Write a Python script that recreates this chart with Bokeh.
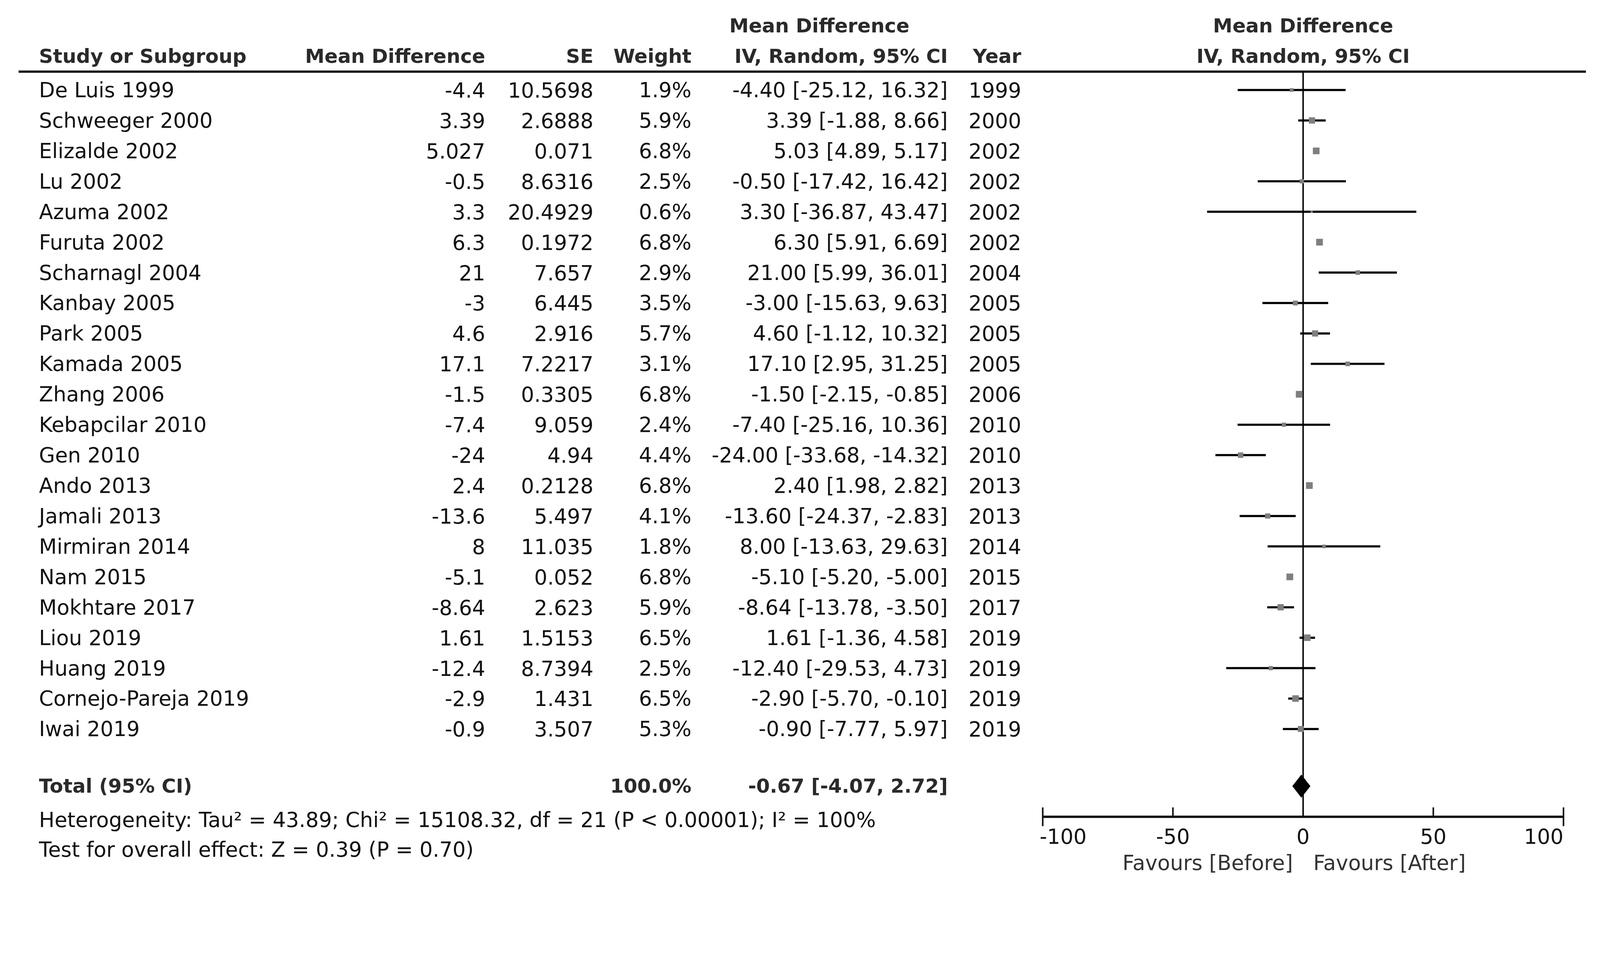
from bokeh.plotting import figure
from bokeh.models import Range1d, ColumnDataSource
from bokeh.core.properties import value
from bokeh.embed import file_html
from bokeh.resources import INLINE

# ---------------- data ----------------
studies = ["De Luis 1999", "Schweeger 2000", "Elizalde 2002", "Lu 2002", "Azuma 2002",
           "Furuta 2002", "Scharnagl 2004", "Kanbay 2005", "Park 2005", "Kamada 2005",
           "Zhang 2006", "Kebapcilar 2010", "Gen 2010", "Ando 2013", "Jamali 2013",
           "Mirmiran 2014", "Nam 2015", "Mokhtare 2017", "Liou 2019", "Huang 2019",
           "Cornejo-Pareja 2019", "Iwai 2019"]
md_text = ["-4.4", "3.39", "5.027", "-0.5", "3.3", "6.3", "21", "-3", "4.6", "17.1", "-1.5",
           "-7.4", "-24", "2.4", "-13.6", "8", "-5.1", "-8.64", "1.61", "-12.4", "-2.9", "-0.9"]
se_text = ["10.5698", "2.6888", "0.071", "8.6316", "20.4929", "0.1972", "7.657", "6.445",
           "2.916", "7.2217", "0.3305", "9.059", "4.94", "0.2128", "5.497", "11.035", "0.052",
           "2.623", "1.5153", "8.7394", "1.431", "3.507"]
weights = [1.9, 5.9, 6.8, 2.5, 0.6, 6.8, 2.9, 3.5, 5.7, 3.1, 6.8, 2.4, 4.4, 6.8, 4.1, 1.8,
           6.8, 5.9, 6.5, 2.5, 6.5, 5.3]
est = [-4.40, 3.39, 5.03, -0.50, 3.30, 6.30, 21.00, -3.00, 4.60, 17.10, -1.50, -7.40,
       -24.00, 2.40, -13.60, 8.00, -5.10, -8.64, 1.61, -12.40, -2.90, -0.90]
ci_lo = [-25.12, -1.88, 4.89, -17.42, -36.87, 5.91, 5.99, -15.63, -1.12, 2.95, -2.15,
         -25.16, -33.68, 1.98, -24.37, -13.63, -5.20, -13.78, -1.36, -29.53, -5.70, -7.77]
ci_hi = [16.32, 8.66, 5.17, 16.42, 43.47, 6.69, 36.01, 9.63, 10.32, 31.25, -0.85, 10.36,
         -14.32, 2.82, -2.83, 29.63, -5.00, -3.50, 4.58, 4.73, -0.10, 5.97]
years = ["1999", "2000", "2002", "2002", "2002", "2002", "2004", "2005", "2005", "2005",
         "2006", "2010", "2010", "2013", "2013", "2014", "2015", "2017", "2019", "2019",
         "2019", "2019"]

total_label = "Total (95% CI)"
total_weight = 100.0
total_est, total_lo, total_hi = -0.67, -4.07, 2.72
heterogeneity = "Heterogeneity: Tau\u00b2 = 43.89; Chi\u00b2 = 15108.32, df = 21 (P < 0.00001); I\u00b2 = 100%"
overall = "Test for overall effect: Z = 0.39 (P = 0.70)"
axis_ticks = [-100, -50, 0, 50, 100]
favours_left = "Favours [Before]"
favours_right = "Favours [After]"

# ---------------- layout (in reference-view units, converted by K) ----------------
K = 2.614
W, H = 4060, 2250
def k(v):
    return v * K

ROW0, ROW_H = k(88), k((714 - 88) / 21.0)
Y_HEAD1, Y_HEAD2, Y_RULE = k(25), k(55), k(70)
Y_TOTAL, Y_HET, Y_TEST = k(770), k(803), k(832)
Y_AXIS, Y_TICKLAB, Y_FAV = k(800), k(819), k(845)
X_STUDY, X_MD, X_SE, X_W, X_CI, X_YEAR = k(38), k(475), k(581), k(677), k(928), k(1000)
X_CIHEAD1 = k(714)
RULE_X0, RULE_X1 = k(18), k(1553)
PX_M100, PX_P100 = k(1021), k(1531)
scale = (PX_P100 - PX_M100) / 200.0
md_start = -100 - PX_M100 / scale
md_end = 100 + (W - PX_P100) / scale

FONT = value("DejaVu Sans")
FS = "53px"
FSB = "50px"
TXT = "#111111"
HEAD = "#2a2a2a"

p = figure(width=W, height=H, x_range=Range1d(0, W), y_range=Range1d(H, 0),
           output_backend="svg", toolbar_location=None, min_border=0,
           x_axis_type=None, y_axis_type=None)
p.grid.visible = False
p.outline_line_color = None
p.background_fill_color = "white"
p.extra_x_ranges = {"md": Range1d(md_start, md_end)}

n = len(studies)
ys = [ROW0 + i * ROW_H for i in range(n)]
src = ColumnDataSource(dict(
    y=ys, study=studies, md=md_text, se=se_text,
    wt=[f"{w:.1f}%" for w in weights],
    ci=[f"{e:.2f} [{l:.2f}, {h:.2f}]" for e, l, h in zip(est, ci_lo, ci_hi)],
    year=years, est=est, lo=ci_lo, hi=ci_hi,
    sz=[6.2 * (w ** 0.5) for w in weights],
))

def txt(x, y, t, align="left", bold=False, color=TXT, size=None, **kw):
    p.text(x=x, y=y, text=t, text_font=FONT,
           text_font_size=size or (FSB if bold else FS),
           text_font_style="bold" if bold else "normal", text_color=color,
           text_align=align, text_baseline="middle", **kw)

# headers
txt([X_CIHEAD1], [Y_HEAD1], ["Mean Difference"], bold=True, color=HEAD)
txt([X_STUDY], [Y_HEAD2], ["Study or Subgroup"], bold=True, color=HEAD)
txt([X_MD], [Y_HEAD2], ["Mean Difference"], "right", True, HEAD)
txt([X_SE], [Y_HEAD2], ["SE"], "right", True, HEAD)
txt([X_W], [Y_HEAD2], ["Weight"], "right", True, HEAD)
txt([X_CI], [Y_HEAD2], ["IV, Random, 95% CI"], "right", True, HEAD)
txt([X_YEAR], [Y_HEAD2], ["Year"], "right", True, HEAD)
txt([0], [Y_HEAD1], ["Mean Difference"], "center", True, HEAD, x_range_name="md")
txt([0], [Y_HEAD2], ["IV, Random, 95% CI"], "center", True, HEAD, x_range_name="md")

# header rule
p.segment(x0=[RULE_X0], y0=[Y_RULE], x1=[RULE_X1], y1=[Y_RULE], line_width=6,
          line_color="#1a1a1a")

# table rows
for col, x, al in [("study", X_STUDY, "left"), ("md", X_MD, "right"), ("se", X_SE, "right"),
                   ("wt", X_W, "right"), ("ci", X_CI, "right"), ("year", X_YEAR, "right")]:
    p.text(x=x, y="y", text=col, source=src, text_font=FONT, text_font_size=FS,
           text_color=TXT, text_align=al, text_baseline="middle")

# total row and footnotes
txt([X_STUDY], [Y_TOTAL], [total_label], bold=True, color=HEAD)
txt([X_W], [Y_TOTAL], [f"{total_weight:.1f}%"], "right", True, HEAD)
txt([X_CI], [Y_TOTAL], [f"{total_est:.2f} [{total_lo:.2f}, {total_hi:.2f}]"], "right", True, HEAD)
txt([X_STUDY], [Y_HET], [heterogeneity])
txt([X_STUDY], [Y_TEST], [overall])

# forest: zero line
p.segment(x0=[0], y0=[Y_RULE], x1=[0], y1=[Y_AXIS], x_range_name="md",
          line_width=4, line_color="#111111")
# CI lines and squares
p.segment(x0="lo", y0="y", x1="hi", y1="y", source=src, x_range_name="md",
          line_width=5.5, line_color="black")
p.scatter(x="est", y="y", size="sz", marker="square", source=src, x_range_name="md",
          fill_color="#7f7f7f", line_color="#7f7f7f")
# diamond
DH = 29
p.patch(x=[total_lo, total_est, total_hi, total_est],
        y=[Y_TOTAL, Y_TOTAL - DH, Y_TOTAL, Y_TOTAL + DH],
        x_range_name="md", fill_color="black", line_color="black")

# axis
TL = 24
p.segment(x0=[axis_ticks[0]], y0=[Y_AXIS], x1=[axis_ticks[-1]], y1=[Y_AXIS],
          x_range_name="md", line_width=6, line_color="#111111")
inner = axis_ticks[1:-1]
ends = [axis_ticks[0], axis_ticks[-1]]
p.segment(x0=inner, y0=[Y_AXIS - TL] * len(inner), x1=inner, y1=[Y_AXIS] * len(inner),
          x_range_name="md", line_width=4, line_color="#111111")
p.segment(x0=ends, y0=[Y_AXIS - TL] * 2, x1=ends, y1=[Y_AXIS + TL] * 2,
          x_range_name="md", line_width=4, line_color="#111111")
txt([axis_ticks[0]], [Y_TICKLAB], [str(axis_ticks[0])], "left", x_range_name="md", x_offset=-8)
txt(inner, [Y_TICKLAB] * len(inner), [str(t) for t in inner], "center", x_range_name="md")
txt([axis_ticks[-1]], [Y_TICKLAB], [str(axis_ticks[-1])], "right", x_range_name="md")
txt([0], [Y_FAV], [favours_left], "right", color="#333333", x_range_name="md", x_offset=-26)
txt([0], [Y_FAV], [favours_right], "left", color="#333333", x_range_name="md", x_offset=26)

open("out.html", "w").write(file_html(p, INLINE))
